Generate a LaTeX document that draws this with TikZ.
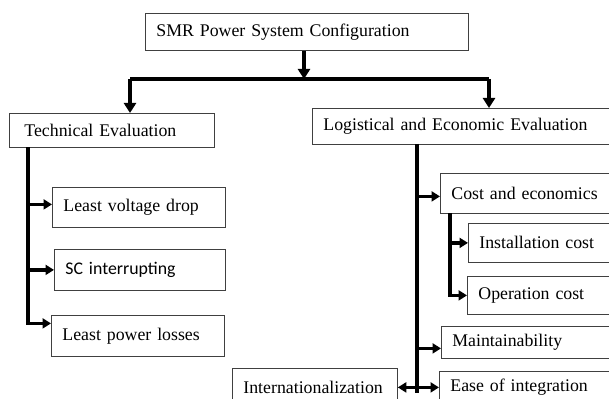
\documentclass[tikz,border=0pt]{standalone}
\usepackage{fontspec}
\setmainfont{Liberation Serif}
\newfontfamily\calibrifont{Carlito}
\usetikzlibrary{arrows.meta}

\tikzset{
  box/.style={draw=black!75, line width=0.8pt, anchor=north west, align=left, inner xsep=11pt, inner ysep=0pt},
  bigarr/.style={line width=3.3pt, -{Triangle[length=10pt,width=12pt]}},
  arr/.style={line width=3.3pt, -{Triangle[length=8.5pt,width=10pt]}},
  trunk/.style={line width=3.3pt}
}

\begin{document}
\begin{tikzpicture}[x=1pt, y=-1pt, font=\fontsize{17.8}{20}\selectfont]

% Canvas
\useasboundingbox (0,0) rectangle (609,398);
\clip (0,0) rectangle (609,398);

% Boxes
\node[box, text width=301pt, minimum height=37pt] (smr) at (145,13) {SMR Power System Configuration};
\node[box, inner xsep=15pt, text width=175pt, minimum height=34pt] (tech) at (9,113) {Technical Evaluation};
\node[box, text width=298pt, minimum height=36pt] (logi) at (312,108) {Logistical and Economic Evaluation};

\node[box, text width=151pt, minimum height=40pt] (vdrop) at (52,187) {Least voltage drop};
\node[box, text width=149pt, minimum height=41pt] (scint) at (54,249) {\calibrifont SC interrupting};
\node[box, text width=151pt, minimum height=41pt] (ploss) at (51,315) {Least power losses};

\node[box, text width=178pt, minimum height=40pt] (cost) at (440,173) {Cost and economics};
\node[box, text width=158pt, minimum height=39pt] (inst) at (468,223) {Installation cost};
\node[box, text width=158pt, minimum height=38pt] (oper) at (467,276) {Operation cost};
\node[box, text width=178pt, minimum height=32pt] (maint) at (441,326) {Maintainability};
\node[box, text width=178pt, minimum height=32pt] (ease) at (439,371) {Ease of integration};
\node[box, text width=143pt, minimum height=38pt] (intl) at (232,368) {Internationalization};

% Junctions
\coordinate (bar) at (304,79);
\coordinate (barL) at (130,79);
\coordinate (barR) at (489,79);
\coordinate (tj) at (28,147);
\coordinate (lj) at (417,144);
\coordinate (lend) at (417,393);
\coordinate (cj) at (450,213);

% Top level
\draw[bigarr] (smr.south -| bar) -- (bar);
\draw[trunk] (barL) -- (barR);
\draw[bigarr] (barL) -- (barL |- tech.north);
\draw[bigarr] (barR) -- (barR |- logi.north);

% Technical branch
\draw[arr] (tj) |- ([yshift=12.5pt]ploss.west);
\draw[arr] (tj |- vdrop.west) ++(0,-3) -- ([yshift=3pt]vdrop.west);
\draw[arr] (tj |- scint.west) -- (scint.west);

% Logistical branch
\draw[trunk] (lj) -- (lend);
\draw[arr] (lj |- cost.west) ++(0,3) -- ([yshift=-3pt]cost.west);
\draw[arr] (cj) |- (oper.west);
\draw[arr] (cj |- inst.west) -- (inst.west);
\draw[arr] ([yshift=-6pt]maint.west -| lj) -- ([yshift=-6pt]maint.west);
\draw[line width=3.3pt, {Triangle[length=8.5pt,width=10pt]}-{Triangle[length=8.5pt,width=10pt]}] (intl.east) -- (ease.west);

\end{tikzpicture}
\end{document}
